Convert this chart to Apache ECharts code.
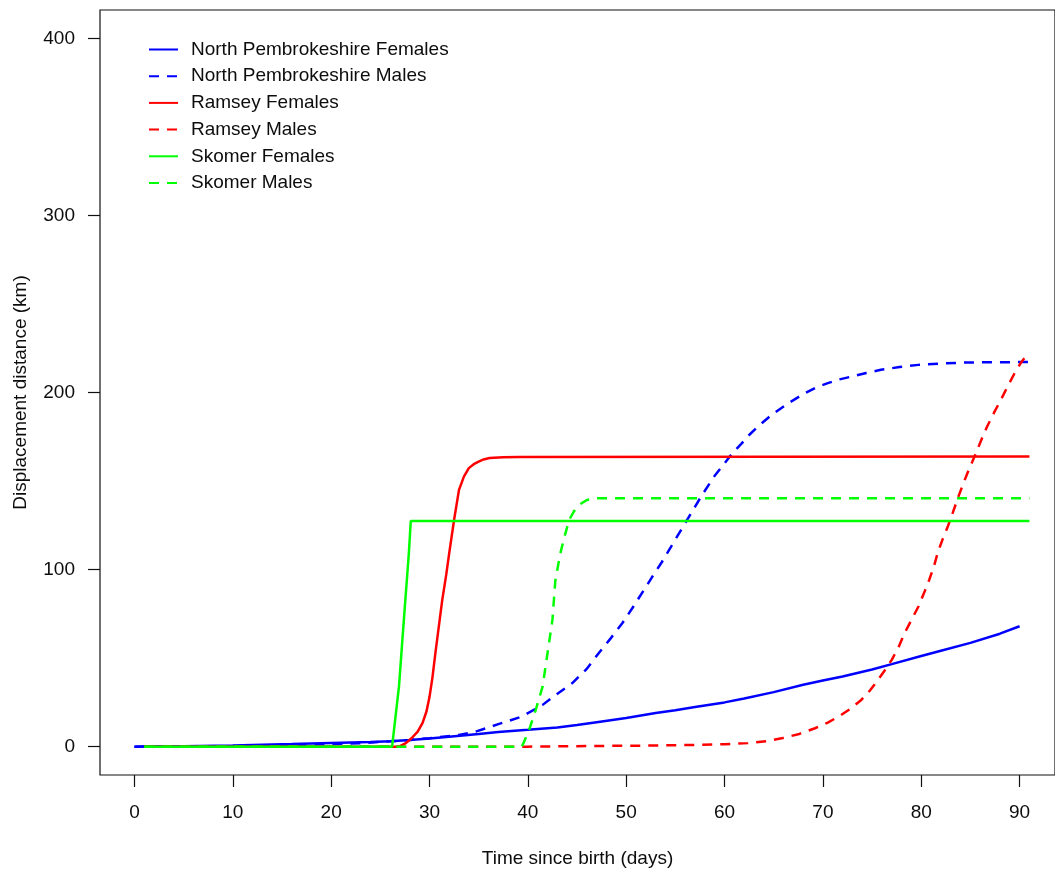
<!DOCTYPE html>
<html>
<head>
<meta charset="utf-8">
<title>Displacement distance over time</title>
<script src="https://cdn.jsdelivr.net/npm/echarts@6/dist/echarts.min.js"></script>
<style>
  html, body { margin: 0; padding: 0; background: #ffffff; }
  #chart { width: 1055px; height: 875px; }
</style>
</head>
<body>
<div id="chart"></div>
<script>
// Displacement distance (km) against time since birth (days), as [day, km] pairs
const npFemales = [
  [0, 0], [1, 0.1], [5, 0.3], [10, 0.6], [13, 1.1], [16, 1.5], [18, 1.8], [20, 2.1],
  [22, 2.4], [24, 2.7], [26, 3.1], [28, 3.8], [30, 4.6], [32, 5.6], [35, 7.2], [37, 8.3],
  [40, 9.5], [43, 10.8], [45, 12.2], [47, 13.8], [50, 16.2], [53, 19], [55, 20.6],
  [57, 22.4], [60, 25], [62, 27.2], [65, 30.8], [68, 35], [70, 37.4], [72, 39.6],
  [75, 43.6], [77, 46.6], [80, 51.2], [82, 54.2], [85, 58.6], [88, 63.8], [90, 68]
];
const npMales = [
  [0, 0], [10, 0.3], [15, 0.8], [20, 1.4], [23, 2], [26, 3], [28, 3.8], [30, 4.8],
  [33, 6.6], [34.7, 8.5], [37, 12.7], [39.4, 17], [41.5, 23.6], [42.6, 28.2],
  [44.5, 35.8], [46, 44], [47.2, 52.8], [48.4, 61], [49.6, 69.7], [50.6, 78],
  [51.6, 86.7], [52.6, 95.5], [53.6, 104], [55, 117], [56.3, 129], [57.7, 142],
  [59, 153], [60, 160], [60.7, 165], [61.7, 171], [62.5, 176], [63.4, 180.8],
  [64.8, 187.4], [66.5, 194], [68.2, 199.7], [69.3, 202.8], [70.5, 205.3],
  [71.7, 207.4], [72.9, 209], [74.4, 211], [75.9, 212.8], [77.8, 214.4],
  [79.7, 215.6], [82, 216.4], [84.4, 216.9], [87.5, 217.1], [91, 217.2]
];
const ramseyFemales = [
  [1, 0], [26.9, 0], [27.6, 2], [28.2, 4.9], [28.8, 8.5], [29.3, 13.4], [29.7, 20],
  [30, 28], [30.3, 39], [30.6, 52.8], [31, 70], [31.3, 82.9], [31.7, 97], [32, 109],
  [32.5, 128], [33, 145], [33.5, 152.5], [34, 157.3], [34.5, 159.5], [35, 161],
  [35.5, 162.2], [36.1, 163], [37.5, 163.4], [39.1, 163.6], [91, 163.8]
];
const ramseyMales = [
  [1, 0], [40, 0], [47.2, 0.4], [52, 0.6], [57.3, 1], [60, 1.4], [62.4, 2], [64.2, 3],
  [65.8, 4.7], [67.6, 7.2], [69.2, 10.4], [70.5, 13.6], [71.6, 17], [72.8, 21.4],
  [73.9, 26.4], [74.8, 31.8], [75.6, 37.7], [76.3, 43.2], [77, 49], [77.7, 56.3],
  [78.3, 64], [79, 71.5], [79.7, 79], [80.3, 87], [80.8, 94], [81.3, 102], [81.7, 110],
  [82.2, 117.5], [82.7, 124.3], [83.2, 132], [83.7, 140], [84.2, 147.5], [84.7, 154.5],
  [85.2, 161], [85.7, 167.6], [86.2, 174.4], [86.7, 180.8], [87.4, 188.6],
  [88.1, 195.9], [88.8, 203.6], [89.5, 211], [90.1, 216.5], [90.7, 221]
];
const skomerFemales = [
  [1, 0], [26.2, 0], [26.9, 34], [27.4, 72], [27.9, 109], [28.1, 127.5], [91, 127.5]
];
const skomerMales = [
  [1, 0], [39.4, 0], [40.1, 9], [40.8, 20.7], [41.5, 33.9], [42.1, 56.5], [42.5, 71.6],
  [42.8, 94], [43.3, 109], [43.7, 118], [44.2, 128], [44.7, 133], [45.2, 136.5],
  [46, 139.3], [47, 140.3], [91, 140.3]
];

const seriesNames = [
  'North Pembrokeshire Females', 'North Pembrokeshire Males',
  'Ramsey Females', 'Ramsey Males',
  'Skomer Females', 'Skomer Males'
];
const xTicks = [0, 10, 20, 30, 40, 50, 60, 70, 80, 90];
const yTicks = [0, 100, 200, 300, 400];

const FONT = "'Liberation Sans', Arial, sans-serif";
const INK = '#0d0d0d';
const DASH = [10, 8];

function lineSeries(name, data, color, dashed) {
  return {
    name: name,
    type: 'line',
    data: data,
    symbol: 'none',
    showSymbol: false,
    smooth: false,
    animation: false,
    lineStyle: { color: color, width: 2.5, type: dashed ? DASH : 'solid' },
    itemStyle: { color: color },
    emphasis: { disabled: true }
  };
}

const chart = echarts.init(document.getElementById('chart'), null, { renderer: 'canvas' });
chart.setOption({
  backgroundColor: '#ffffff',
  animation: false,
  textStyle: { fontFamily: FONT },
  grid: {
    left: 100, top: 10, width: 957, height: 765,
    show: true, borderColor: '#111', borderWidth: 1.2, backgroundColor: 'transparent'
  },
  legend: {
    orient: 'vertical',
    left: 148, top: 40,
    padding: 0,
    itemWidth: 29, itemHeight: 14, itemGap: 7.7,
    data: seriesNames,
    selectedMode: false,
    itemStyle: { opacity: 0 },
    textStyle: { fontFamily: FONT, fontSize: 19, color: INK, padding: [0, 0, 0, 8] }
  },
  xAxis: {
    type: 'value',
    min: -3.5, max: 93.6,
    name: 'Time since birth (days)',
    nameLocation: 'middle',
    nameGap: 74,
    nameTextStyle: { fontFamily: FONT, fontSize: 19, color: INK },
    axisLine: { show: false, onZero: false },
    splitLine: { show: false },
    axisTick: { show: true, length: 12, inside: false, customValues: xTicks,
                lineStyle: { color: '#111', width: 1.2 } },
    axisLabel: { customValues: xTicks, fontFamily: FONT, fontSize: 19, color: INK, margin: 28 }
  },
  yAxis: {
    type: 'value',
    min: -16, max: 416,
    name: 'Displacement distance (km)',
    nameLocation: 'middle',
    nameRotate: 90,
    nameGap: 70,
    nameTextStyle: { fontFamily: FONT, fontSize: 19, color: INK },
    axisLine: { show: false, onZero: false },
    splitLine: { show: false },
    axisTick: { show: true, length: 12, inside: false, customValues: yTicks,
                lineStyle: { color: '#111', width: 1.2 } },
    axisLabel: { customValues: yTicks, fontFamily: FONT, fontSize: 19, color: INK, margin: 25 }
  },
  series: [
    lineSeries(seriesNames[0], npFemales, '#0000ff', false),
    lineSeries(seriesNames[1], npMales, '#0000ff', true),
    lineSeries(seriesNames[2], ramseyFemales, '#ff0000', false),
    lineSeries(seriesNames[3], ramseyMales, '#ff0000', true),
    lineSeries(seriesNames[4], skomerFemales, '#00ff00', false),
    lineSeries(seriesNames[5], skomerMales, '#00ff00', true)
  ]
});
</script>
</body>
</html>
